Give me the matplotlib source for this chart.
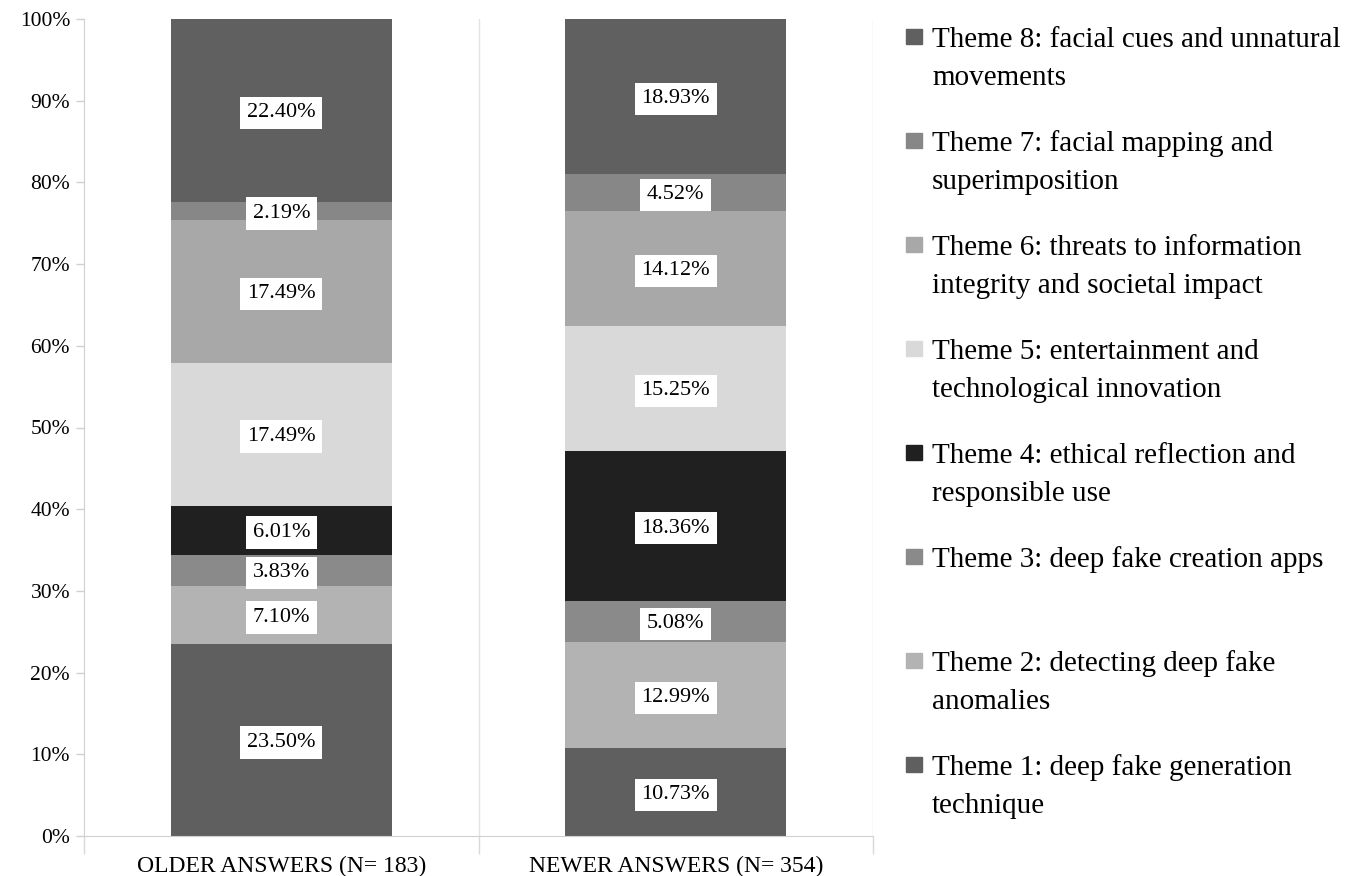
import numpy as np
import matplotlib
matplotlib.use("Agg")
from matplotlib import pyplot as plt
from matplotlib.patches import Rectangle

plt.rcParams["font.family"] = ["Liberation Serif", "DejaVu Serif"]

groups = ["OLDER ANSWERS (N= 183)", "NEWER ANSWERS (N= 354)"]
themes = [
  ["Theme 1: deep fake generation", "technique"],
  ["Theme 2: detecting deep fake", "anomalies"],
  ["Theme 3: deep fake creation apps"],
  ["Theme 4: ethical reflection and", "responsible use"],
  ["Theme 5: entertainment and", "technological innovation"],
  ["Theme 6: threats to information", "integrity and societal impact"],
  ["Theme 7: facial mapping and", "superimposition"],
  ["Theme 8: facial cues and unnatural", "movements"],
]
older = [23.50, 7.10, 3.83, 6.01, 17.49, 17.49, 2.19, 22.40]
newer = [10.73, 12.99, 5.08, 18.36, 15.25, 14.12, 4.52, 18.93]
colors = ["#5f5f5f", "#b3b3b3", "#8a8a8a", "#202020",
          "#d9d9d9", "#a8a8a8", "#878787", "#606060"]

values = np.array([older, newer]).T  # rows: themes, cols: groups
x = np.arange(len(groups))

W, H = 1353, 876
fig = plt.figure(figsize=(W / 100, H / 100), dpi=100)
ax = fig.add_axes([84 / W, 1 - 836 / H, 789 / W, 817 / H])

bottom = np.zeros(len(groups))
for i, row in enumerate(values):
  ax.bar(x, row, width=0.56, bottom=bottom, color=colors[i], linewidth=0)
  for j, v in enumerate(row):
    ax.text(x[j], bottom[j] + v / 2, f"{v:.2f}%", ha="center",
            va="center_baseline", fontsize=16, color="black",
            bbox=dict(boxstyle="square,pad=0.3", fc="white", ec="none"))
  bottom += row

ax.set_xlim(-0.5, 1.5)
ax.set_ylim(0, 100)
ax.set_yticks(np.arange(0, 101, 10))
ax.set_yticklabels([f"{t}%" for t in range(0, 101, 10)], fontsize=15.5)
ax.set_xticks(x)
ax.set_xticklabels(groups, fontsize=17)
ax.tick_params(axis="x", length=0, pad=14)
ax.tick_params(axis="y", length=6, color="#d0d0d0", width=1, pad=4)

# category separators extending slightly below the baseline
ax.set_xticks([-0.5, 0.5, 1.5], minor=True)
ax.tick_params(axis="x", which="minor", length=13, color="#d9d9d9", width=1)
for sep in [0.5, 1.5]:
  ax.axvline(sep, color="#e3e3e3", linewidth=1, zorder=0)

for side in ["top", "right"]:
  ax.spines[side].set_visible(False)
ax.spines["left"].set_color("#d0d0d0")
ax.spines["bottom"].set_color("#d0d0d0")

# legend, listed top to bottom from theme 8 down to theme 1
first_baseline = 47
item_step = 104
line_step = 38
for k in range(len(themes)):
  idx = len(themes) - 1 - k
  base = first_baseline + k * item_step
  for n, line in enumerate(themes[idx]):
    fig.text(932 / W, 1 - (base + n * line_step) / H, line, fontsize=21,
             va="baseline", ha="left")
  fig.patches.append(Rectangle((906 / W, 1 - (base - 3) / H), 16 / W, 15 / H,
                               transform=fig.transFigure,
                               color=colors[idx], figure=fig))

fig.savefig("out.png", dpi=100)
